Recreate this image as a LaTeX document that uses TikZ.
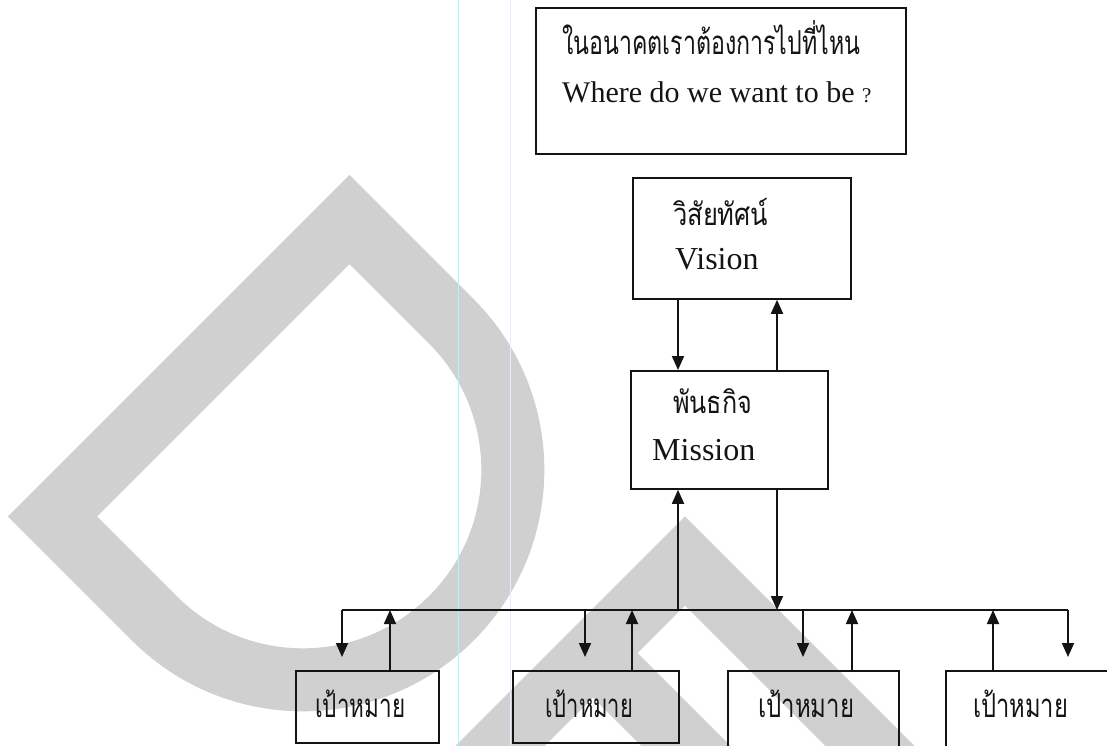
\documentclass[tikz,border=0pt]{standalone}
\usepackage{graphicx}
\usepackage{fontspec}
\setmainfont{Liberation Serif}
\newfontfamily\thai[Script=Thai]{Loma}
\usetikzlibrary{arrows.meta}
\definecolor{ink}{RGB}{20,20,20}
\definecolor{wm}{RGB}{208,208,208}
\definecolor{scanA}{RGB}{195,236,242}
\definecolor{scanB}{RGB}{236,234,246}
% Thai text at a given size, squeezed to a given width
\newcommand{\thw}[3]{\resizebox{#2}{\height}{\fontsize{#1}{#1}\thai #3}}
\begin{document}
\begin{tikzpicture}[x=1pt,y=-1pt,
  box/.style={draw=ink, line width=1.8pt, inner sep=0pt, anchor=north west},
  lbl/.style={inner sep=0pt, anchor=base west, text=ink},
  link/.style={draw=ink, line width=1.8pt},
  arr/.style={link, -{Triangle[width=12pt,length=14pt]}},
  stamp/.style={draw=wm, line width=63pt, miter limit=10}]
\path[use as bounding box] (0,0) rectangle (1107,746);
\clip (0,0) rectangle (1107,746);
\fill[white] (0,0) rectangle (1107,746);

% background stamp letters: an outlined D and the upper part of a P
\begin{scope}[shift={(201,368)}, x=1pt, y=1pt, rotate=-45]
  \draw[stamp]
    (0,210) -- (0,-210) -- (144,-210) arc[start angle=-90, end angle=90, radius=210] -- cycle;
\end{scope}
\draw[stamp] (435,811) -- (685,561) -- (935,811);
\draw[stamp] (593,653) -- (793,853);

% faint vertical rules
\draw[scanA, line width=1pt] (458,0) -- (458,746);
\draw[scanB, line width=1pt] (510,0) -- (510,746);

% boxes
\node[box, minimum width=370pt, minimum height=146pt] (where) at (535,7) {};
\node[box, minimum width=218pt, minimum height=121pt] (vision) at (632,177) {};
\node[box, minimum width=197pt, minimum height=118pt] (mission) at (630,370) {};
\node[box, minimum width=143pt, minimum height=72pt] (g1) at (295,670) {};
\node[box, minimum width=166pt, minimum height=72pt] (g2) at (512,670) {};
\node[box, minimum width=171pt, minimum height=100pt] (g3) at (727,670) {};
\node[box, minimum width=200pt, minimum height=100pt] (g4) at (945,670) {};

% labels
\node[lbl] (whereTh) at (562,55) {\thw{33}{298pt}{ในอนาคตเราต้องการไปที่ไหน}};
\node[lbl] (whereEn) at (562,103) {\fontsize{30}{30}\selectfont Where do we want to be {\fontsize{21}{21}\selectfont ?}};
\node[lbl] (visionTh) at (673,225) {\thw{31}{95pt}{วิสัยทัศน์}};
\node[lbl] (visionEn) at (675,269) {\fontsize{32}{32}\selectfont Vision};
\node[lbl] (missionTh) at (673,413) {\thw{31}{79pt}{พันธกิจ}};
\node[lbl] (missionEn) at (652,460) {\fontsize{32}{32}\selectfont Mission};
\node[lbl] (g1t) at (315,717) {\thw{33}{90pt}{เป้าหมาย}};
\node[lbl] (g2t) at (545,717) {\thw{33}{88pt}{เป้าหมาย}};
\node[lbl] (g3t) at (758,717) {\thw{33}{96pt}{เป้าหมาย}};
\node[lbl] (g4t) at (973,717) {\thw{33}{95pt}{เป้าหมาย}};

% vision <-> mission
\draw[arr] ([xshift=46pt]vision.south west) -- ([xshift=48pt]mission.north west);
\draw[arr] ([xshift=147pt]mission.north west) -- ([xshift=145pt]vision.south west);

% distribution bus
\coordinate (busL) at (342,610);
\coordinate (busR) at (1068,610);
\draw[link] (busL) -- (busR);
\coordinate (mUp) at ([xshift=48pt]mission.south west);
\coordinate (mDn) at ([xshift=147pt]mission.south west);
\draw[arr] (mUp |- busL) -- (mUp);
\draw[arr] (mDn) -- (mDn |- busL);

% goals
\coordinate (d1) at ([xshift=47pt,yshift=13pt]g1.north west);
\coordinate (u1) at ([xshift=95pt]g1.north west);
\coordinate (d2) at ([xshift=73pt,yshift=13pt]g2.north west);
\coordinate (u2) at ([xshift=120pt]g2.north west);
\coordinate (d3) at ([xshift=76pt,yshift=13pt]g3.north west);
\coordinate (u3) at ([xshift=125pt]g3.north west);
\coordinate (u4) at ([xshift=48pt]g4.north west);
\coordinate (d4) at ([xshift=123pt,yshift=13pt]g4.north west);
\foreach \d in {d1,d2,d3,d4} \draw[arr] (\d |- busL) -- (\d);
\foreach \u in {u1,u2,u3,u4} \draw[arr] (\u) -- (\u |- busL);
\end{tikzpicture}
\end{document}
